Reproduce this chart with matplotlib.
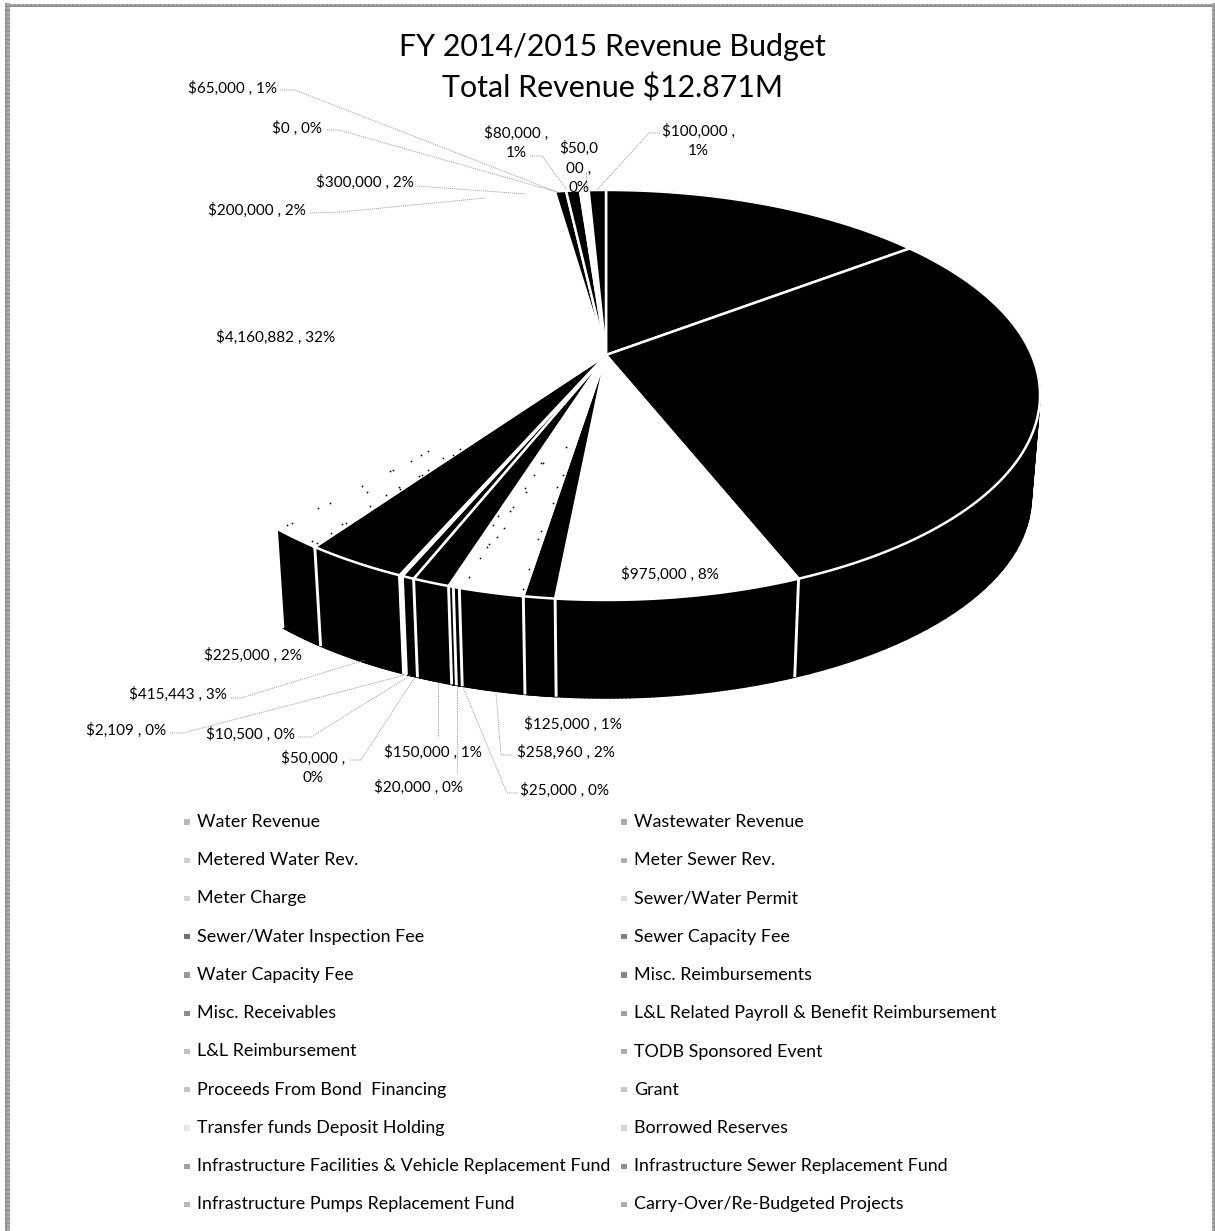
import numpy as np
import matplotlib
matplotlib.use("Agg")
import matplotlib.pyplot as plt
from matplotlib.collections import PolyCollection
from matplotlib.patches import Polygon, Rectangle

plt.rcParams['font.family'] = ['Lato', 'DejaVu Sans']

categories = ["Water Revenue", "Wastewater Revenue", "Metered Water Rev.", "Meter Sewer Rev.",
              "Meter Charge", "Sewer/Water Permit", "Sewer/Water Inspection Fee", "Sewer Capacity Fee",
              "Water Capacity Fee", "Misc. Reimbursements", "Misc. Receivables",
              "L&L Related Payroll & Benefit Reimbursement", "L&L Reimbursement", "TODB Sponsored Event",
              "Proceeds From Bond  Financing", "Grant", "Transfer funds Deposit Holding", "Borrowed Reserves",
              "Infrastructure Facilities & Vehicle Replacement Fund", "Infrastructure Sewer Replacement Fund",
              "Infrastructure Pumps Replacement Fund", "Carry-Over/Re-Budgeted Projects"]
values = [1890000, 3768106, 0, 975000, 125000, 258960, 25000, 20000, 150000, 50000, 10500,
          2109, 415443, 225000, 4160882, 200000, 300000, 0, 65000, 80000, 50000, 100000]
top_colors = ['k', 'k', 'k', 'w', 'k', 'w', 'w', 'w', 'k', 'k', 'w',
              'w', 'k', 'w', 'w', 'w', 'w', 'w', 'k', 'k', 'w', 'k']
wall_colors = ['k', 'k', 'k', 'k', 'k', 'k', 'k', 'k', 'k', 'k', 'w',
               'w', 'k', 'k', 'w', 'w', 'w', 'w', 'k', 'k', 'k', 'k']
legend_greys = ['#b8b8b8', '#a8a8a8', '#d0d0d0', '#b0b0b0', '#d4d4d4', '#dcdcdc', '#707070', '#808080',
                '#989898', '#858585', '#8c8c8c', '#a0a0a0', '#c0c0c0', '#a8a8a8', '#c4c4c4', '#c8c8c8',
                '#e8e8e8', '#d8d8d8', '#a0a0a0', '#909090', '#b8b8b8', '#a8a8a8']

title_lines = ["FY 2014/2015 Revenue Budget", "Total Revenue $12.871M"]
data_labels = ["$65,000 , 1%", "$0 , 0%", "$80,000 ,\n1%", "$50,0\n00 ,\n0%", "$100,000 ,\n1%",
               "$300,000 , 2%", "$200,000 , 2%", "$4,160,882 , 32%", "$975,000 , 8%", "$225,000 , 2%",
               "$415,443 , 3%", "$2,109 , 0%", "$10,500 , 0%", "$50,000 ,\n0%", "$150,000 , 1%",
               "$125,000 , 1%", "$258,960 , 2%", "$20,000 , 0%", "$25,000 , 0%"]
label_xy = [(232, 88), (297, 128), (516, 143), (579, 168), (698, 141),
            (365, 182), (257, 210), (276, 337), (670, 574), (253, 655),
            (178, 694), (126, 730), (251, 734), (313, 768), (433, 752),
            (573, 724), (566, 752), (419, 787), (565, 790)]
leaders = [[(280, 90), (295, 90), (557, 192)], [(327, 130), (339, 130), (557, 192)],
           [(417, 186), (526, 194)], [(310, 213), (341, 212), (485, 198)],
           [(530, 156), (542, 156), (567, 190)], [(586, 172), (586, 190)],
           [(660, 133), (649, 133), (597, 190)],
           [(231, 698), (241, 698), (365, 660)], [(170, 733), (183, 733), (405, 675)],
           [(298, 737), (311, 737), (411, 675)], [(350, 760), (361, 760), (415, 677)],
           [(438, 682), (438, 737)], [(457, 685), (457, 773)],
           [(463, 687), (507, 793), (518, 793)], [(496, 693), (501, 755), (512, 755)]]
# scanning specks on the white slices of the source image
speck_x = [287, 292, 318, 330, 362, 367, 370, 386, 390, 393, 399, 400, 411, 419, 422, 421, 428, 428, 443, 453,
           460, 470, 342, 346, 331, 312, 317, 566, 543, 541, 534, 525, 526, 563, 557, 563, 553, 513, 510, 504,
           497, 489, 487, 480, 469, 541, 538, 529, 523, 493, 498]
speck_y = [525, 523, 508, 503, 486, 492, 506, 495, 471, 470, 487, 489, 461, 476, 475, 455, 451, 470, 458, 455,
           449, 447, 524, 523, 533, 541, 543, 447, 463, 463, 475, 488, 492, 475, 487, 492, 503, 507, 511, 528,
           537, 544, 547, 558, 577, 531, 539, 569, 589, 525, 516]

W, H = 1215, 1231
fig = plt.figure(figsize=(W / 100, H / 100), dpi=100, facecolor='white')
ax = fig.add_axes([0, 0, 1, 1])
ax.set_xlim(0, W)
ax.set_ylim(H, 0)
ax.axis('off')

# perspective projection of the pie disc
CX, CY_TOP, CY_BOT = 606, 355, 458
A, B, K, S = 425.7, 197.2, 0.195, 0.98


def rim(t, level):
    u, v = np.sin(t), np.cos(t)
    d = 1 + K * v
    s, cy = (1.0, CY_TOP) if level == 'top' else (S, CY_BOT)
    return CX + s * A * u / d, cy - s * B * v / d


edges = 2 * np.pi * np.concatenate([[0], np.cumsum(values)]) / np.sum(values)

# outer walls
for i, v in enumerate(values):
    if v == 0 or edges[i] > np.pi * 1.3 or edges[i + 1] < np.pi / 4:
        continue
    t = np.linspace(edges[i], edges[i + 1], 61)
    xt, yt = rim(t, 'top')
    xb, yb = rim(t, 'bot')
    quads = [[(xt[j], yt[j]), (xt[j + 1], yt[j + 1]), (xb[j + 1], yb[j + 1]), (xb[j], yb[j])]
             for j in range(len(t) - 1)]
    ax.add_collection(PolyCollection(quads, facecolors=wall_colors[i], edgecolors=wall_colors[i],
                                     linewidths=1.0, zorder=2))
for i, v in enumerate(values):
    if v == 0 or edges[i] > np.pi * 1.3 or edges[i] < np.pi / 2:
        continue
    xt, yt = rim(edges[i], 'top')
    xb, yb = rim(edges[i], 'bot')
    ax.plot([xt, xb], [yt, yb], color='white', lw=2.1, solid_capstyle='butt', zorder=2.5)

# top faces
for i, v in enumerate(values):
    if v == 0:
        continue
    t = np.linspace(edges[i], edges[i + 1], 80)
    xt, yt = rim(t, 'top')
    pts = np.column_stack([np.r_[CX, xt], np.r_[CY_TOP, yt]])
    ax.add_patch(Polygon(pts, closed=True, facecolor=top_colors[i], edgecolor='white', lw=1.8, zorder=3))

ax.scatter(speck_x, speck_y, s=1.6, c='black', linewidths=0, zorder=3.5)

# leader lines
for path in leaders:
    xs, ys = zip(*path)
    ax.plot(xs, ys, color='#9a9a9a', lw=0.7, ls=(0, (1, 1)), zorder=4)

# data labels
for txt, (x, y) in zip(data_labels, label_xy):
    ax.text(x, y, txt, ha='center', va='center', fontsize=11, color='black',
            linespacing=1.5, zorder=5)

# title
ax.text(612, 47, title_lines[0], ha='center', va='center', fontsize=21.9, color='black')
ax.text(612, 88, title_lines[1], ha='center', va='center', fontsize=21.9, color='black')

# legend, two columns filled row by row
rows = np.arange(len(categories)) // 2
cols = np.arange(len(categories)) % 2
ly = 822 + rows * 38.25
mx = 187 + cols * 437
ax.scatter(mx, ly, marker='s', s=13, c=legend_greys, linewidths=0, zorder=5)
for name, x, y in zip(categories, mx, ly):
    ax.text(x + 10, y, name, ha='left', va='center', fontsize=12.9, color='black')

# page border
for box in [(5, 3, 5, H), (5, 3.5, W, 3.5), (1212, 3, 4, H)]:
    ax.add_patch(Rectangle(box[:2], box[2], box[3], facecolor='#b0b0b0', edgecolor='#909090', lw=0,
                           hatch='++++', zorder=1))

fig.savefig('out.png', dpi=100, facecolor='white')
